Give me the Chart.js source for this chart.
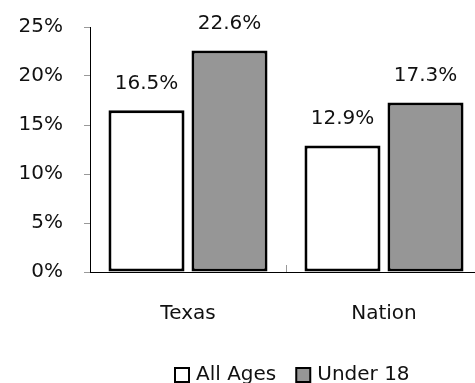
<!DOCTYPE html>
<html>
<head>
<meta charset="utf-8">
<script src="https://cdn.jsdelivr.net/npm/chart.js@4"></script>
<style>
html,body{margin:0;padding:0;background:#fff;overflow:hidden;}
#wrap{position:relative;width:485px;height:383px;}
</style>
</head>
<body>
<div id="wrap"><canvas id="c"></canvas></div>
<script>
const categories = ["Texas", "Nation"];
const seriesNames = ["All Ages", "Under 18"];
const allAges = [16.5, 12.9];
const under18 = [22.6, 17.3];
const yTicks = [0, 5, 10, 15, 20, 25];

const FONT = "'DejaVu Sans', sans-serif";
const fills = ["#ffffff", "#969696"];

const valueLabels = {
  id: "valueLabels",
  afterDatasetsDraw(chart) {
    const ctx = chart.ctx;
    ctx.save();
    ctx.font = "20px " + FONT;
    ctx.fillStyle = "#111";
    ctx.textAlign = "center";
    ctx.textBaseline = "middle";
    chart.data.datasets.forEach((ds, i) => {
      chart.getDatasetMeta(i).data.forEach((bar, j) => {
        ctx.fillText(ds.data[j].toFixed(1) + "%", bar.x, bar.y - 27);
      });
    });
    // category separator tick
    const xs = chart.scales.x;
    const y0 = chart.scales.y.getPixelForValue(0);
    const mx = (xs.getPixelForTick(0) + xs.getPixelForTick(1)) / 2;
    ctx.strokeStyle = "#999";
    ctx.lineWidth = 1;
    ctx.beginPath();
    ctx.moveTo(Math.round(mx) + 0.5, y0);
    ctx.lineTo(Math.round(mx) + 0.5, y0 - 7);
    ctx.stroke();
    // legend
    ctx.font = "20px " + FONT;
    ctx.textAlign = "left";
    let x = 175;
    const ly = 375;
    seriesNames.forEach((name, i) => {
      ctx.fillStyle = fills[i];
      ctx.fillRect(x, ly - 7, 14, 14);
      ctx.strokeStyle = "#000";
      ctx.lineWidth = 2;
      ctx.strokeRect(x, ly - 7, 14, 14);
      ctx.fillStyle = "#111";
      ctx.fillText(name, x + 21, ly);
      x += 21 + ctx.measureText(name).width + 20;
    });
    ctx.restore();
  }
};

new Chart(document.getElementById("c"), {
  type: "bar",
  data: {
    labels: categories,
    datasets: [
      { label: seriesNames[0], data: allAges, backgroundColor: fills[0], borderColor: "#000", borderWidth: 3, borderSkipped: false },
      { label: seriesNames[1], data: under18, backgroundColor: fills[1], borderColor: "#000", borderWidth: 3, borderSkipped: false }
    ]
  },
  options: {
    responsive: true,
    maintainAspectRatio: false,
    animation: false,
    categoryPercentage: 0.847,
    barPercentage: 0.916,
    layout: { padding: { top: 27, right: 3, left: 0, bottom: 0 } },
    plugins: { legend: { display: false }, tooltip: { enabled: false } },
    scales: {
      x: {
        grid: { display: false },
        border: { display: true, color: "#000", width: 1 },
        ticks: { color: "#111", font: { family: FONT, size: 20 }, padding: 22 },
        afterFit(s) { s.height = 111; }
      },
      y: {
        min: 0, max: 25,
        afterBuildTicks(s) { s.ticks = yTicks.map(v => ({ value: v })); },
        grid: { display: true, drawOnChartArea: false, drawTicks: true, tickLength: 6, color: "#999" },
        border: { display: true, color: "#000", width: 1 },
        ticks: { color: "#111", font: { family: FONT, size: 20 }, padding: 21, callback: v => v + "%" },
        afterFit(s) { s.width = 90; s.paddingTop = 0; s.paddingBottom = 0; }
      }
    }
  },
  plugins: [valueLabels]
});
</script>
</body>
</html>
